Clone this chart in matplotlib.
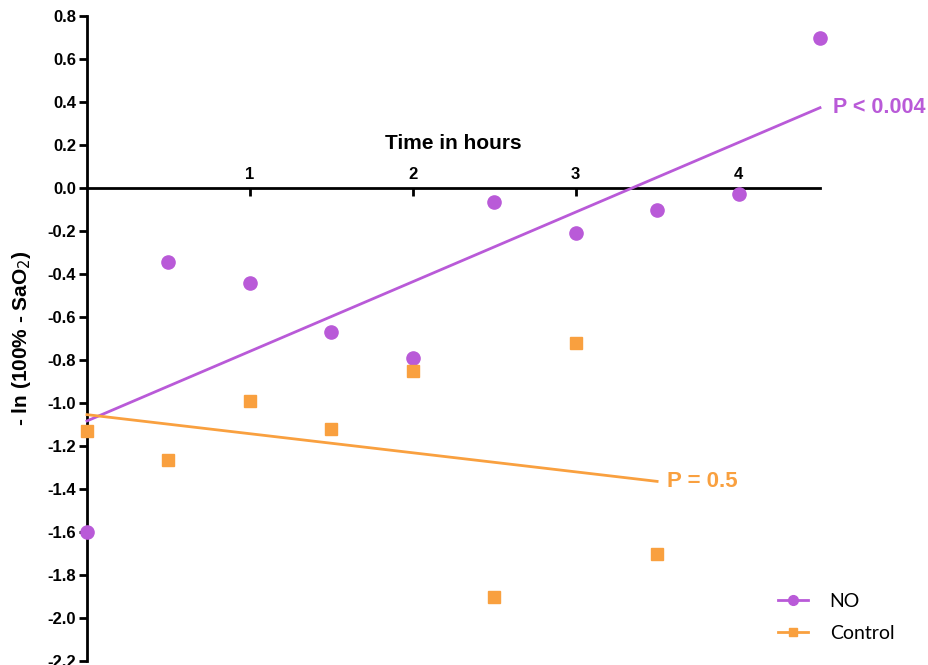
import numpy as np
import matplotlib
matplotlib.use('Agg')
import matplotlib.pyplot as plt

plt.rcParams['font.family'] = ['Liberation Sans', 'DejaVu Sans']

# time (hours) and -ln(100% - SaO2)
no_time = [0, 0.5, 1, 1.5, 2, 2.5, 3, 3.5, 4, 4.5]
no_vals = [-1.60, -0.345, -0.44, -0.67, -0.79, -0.065, -0.21, -0.10, -0.03, 0.70]
ctrl_time = [0, 0.5, 1, 1.5, 2, 2.5, 3, 3.5]
ctrl_vals = [-1.13, -1.265, -0.99, -1.12, -0.85, -1.90, -0.72, -1.70]

purple = '#B95AD8'
orange = '#F9A03F'

fig = plt.figure(figsize=(9.29, 6.65), dpi=100)
ax = fig.add_axes([87/929, 1-661/665, (820-87)/929, (661-16)/665])

# linear fits
p_no = np.polyfit(no_time, no_vals, 1)
p_ct = np.polyfit(ctrl_time, ctrl_vals, 1)
xn = np.array([no_time[0], no_time[-1]])
xc = np.array([ctrl_time[0], ctrl_time[-1]])
ax.plot(xn, np.polyval(p_no, xn), color=purple, lw=2, clip_on=False, zorder=3)
ax.plot(xc, np.polyval(p_ct, xc), color=orange, lw=2, clip_on=False, zorder=3)

ax.plot(no_time, no_vals, 'o', color=purple, ms=9.5, clip_on=False, zorder=4)
ax.plot(ctrl_time, ctrl_vals, 's', color=orange, ms=8, clip_on=False, zorder=4)

ax.text(4.58, np.polyval(p_no, 4.5), 'P < 0.004', color=purple, fontsize=15.5,
        fontweight='bold', va='center', ha='left', clip_on=False)
ax.text(3.56, np.polyval(p_ct, 3.5), 'P = 0.5', color=orange, fontsize=16,
        fontweight='bold', va='center', ha='left')

ax.set_xlim(0, 4.5)
ax.set_ylim(-2.2, 0.8)

ax.spines['right'].set_visible(False)
ax.spines['bottom'].set_visible(False)
ax.spines['top'].set_position(('data', 0))
ax.spines['top'].set_linewidth(2)
ax.spines['left'].set_linewidth(2)

ax.xaxis.set_ticks_position('top')
ax.xaxis.set_label_position('top')
ax.set_xticks([1, 2, 3, 4])
ax.tick_params(axis='x', direction='in', length=6, width=2, labelsize=12, pad=4)
yt = np.round(np.arange(-2.2, 0.81, 0.2), 1)
ax.set_yticks(yt)
ax.set_yticklabels(['%.1f' % v for v in yt])
ax.tick_params(axis='y', direction='out', length=6, width=2, labelsize=12, pad=2)
for lab in ax.get_xticklabels() + ax.get_yticklabels():
    lab.set_fontweight('bold')

ax.set_xlabel('Time in hours', fontsize=15, fontweight='bold', labelpad=13)
ax.set_ylabel('- ln (100% - SaO$_2$)', fontsize=15, fontweight='bold')
ax.yaxis.set_label_coords(-0.074, 0.5)

h1, = ax.plot([], [], '-o', color=purple, ms=7, lw=2)
h2, = ax.plot([], [], '-s', color=orange, ms=6, lw=2)
leg = ax.legend([h1, h2], ['NO', 'Control'], loc='lower left',
                bbox_to_anchor=(0.943, 0.03), frameon=False, borderpad=0,
                borderaxespad=0, handlelength=1.55, handletextpad=1.1,
                labelspacing=0.75, prop={'family': 'Lato', 'size': 14})

fig.savefig('out.png', dpi=100)
